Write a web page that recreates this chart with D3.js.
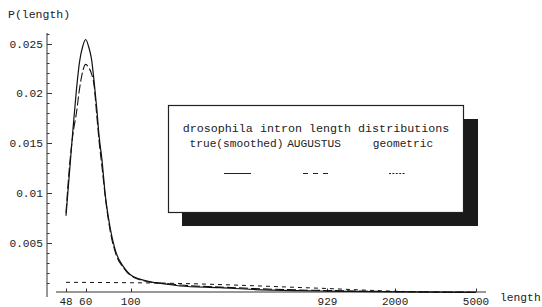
<!DOCTYPE html>
<html>
<head>
<meta charset="utf-8">
<script src="https://d3js.org/d3.v7.min.js"></script>
<style>
  body { margin: 0; background: #fff; }
  text { font-family: "Liberation Mono", "DejaVu Sans Mono", monospace; fill: #222; }
</style>
</head>
<body>
<script>

var xTicks = [48, 60, 100, 929, 2000, 5000];
var yTicks = [0.005, 0.01, 0.015, 0.02, 0.025];
var yTickLabels = ["0.005", "0.01", "0.015", "0.02", "0.025"];

var trueLen = [48, 50, 52, 54, 56, 58, 60, 62, 64, 66, 68, 70, 72, 75, 79, 85, 92, 100, 124, 150, 175, 275, 400, 681, 929, 2000, 5000];
var trueVal = [0.0077, 0.0122, 0.0165, 0.0203, 0.0232, 0.0247, 0.0254, 0.0247, 0.0235, 0.0212, 0.0185, 0.0155, 0.0135, 0.0097, 0.0066, 0.0039, 0.0026, 0.00176, 0.0011, 0.00085, 0.00065, 0.00048, 0.0003, 0.00018, 0.00014, 0.00006, 0.00002];

var augLen = [48, 50, 52, 54, 56, 58, 60, 62, 64, 66, 68, 70, 72, 75, 79, 85, 92, 100, 124, 150, 175, 275, 400, 681, 929, 2000, 5000];
var augVal = [0.0080, 0.0128, 0.0160, 0.0180, 0.0205, 0.0222, 0.0229, 0.0226, 0.0220, 0.0208, 0.0178, 0.0150, 0.0128, 0.0095, 0.0063, 0.0037, 0.0025, 0.0017, 0.00105, 0.0009, 0.00075, 0.00055, 0.0004, 0.00025, 0.0002, 0.00009, 0.00003];

var geoLen = [48, 100, 200, 400, 681, 929, 1500, 2000, 3000, 5000];
var geoVal = [0.00102, 0.00098, 0.00088, 0.00068, 0.0005, 0.0004, 0.00022, 0.00013, 0.00004, 0.000005];

var legendTitle = "drosophila intron length distributions";
var legendNames = ["true(smoothed)", "AUGUSTUS", "geometric"];

var w = 542, h = 307;

var x = d3.scaleLog().domain([48, 5000]).range([66, 476]);
var y = d3.scaleLinear().domain([0, 0.025]).range([292.5, 43.5]);

var svg = d3.select("body").append("svg")
    .attr("width", w)
    .attr("height", h);

// axes, Mathematica style
svg.append("line")
    .attr("x1", 47).attr("x2", 47)
    .attr("y1", 33).attr("y2", 297)
    .style("stroke", "#333").style("stroke-width", 1);

svg.append("line")
    .attr("x1", 56).attr("x2", 486)
    .attr("y1", 292).attr("y2", 292)
    .style("stroke", "#333").style("stroke-width", 1);

var minor = d3.range(1, 27).map(function(i) { return i * 0.001; });
svg.selectAll(".ymin")
    .data(minor)
    .enter()
    .append("line")
    .attr("x1", 47)
    .attr("x2", function(d) { return (Math.round(d * 1000) % 5 == 0) ? 52 : 49.5; })
    .attr("y1", function(d) { return Math.round(y(d)) + 0.5; })
    .attr("y2", function(d) { return Math.round(y(d)) + 0.5; })
    .style("stroke", "#333").style("stroke-width", 1);

svg.selectAll(".ylab")
    .data(yTicks)
    .enter()
    .append("text")
    .attr("x", 43)
    .attr("y", function(d) { return y(d) + 4; })
    .attr("text-anchor", "end")
    .style("font-size", "11.2px")
    .text(function(d, i) { return yTickLabels[i]; });

svg.selectAll(".xt")
    .data(xTicks)
    .enter()
    .append("line")
    .attr("x1", function(d) { return Math.round(x(d)) + 0.5; })
    .attr("x2", function(d) { return Math.round(x(d)) + 0.5; })
    .attr("y1", 292)
    .attr("y2", 288.5)
    .style("stroke", "#333").style("stroke-width", 1);

svg.selectAll(".xlab")
    .data(xTicks)
    .enter()
    .append("text")
    .attr("x", function(d) { return x(d); })
    .attr("y", 304.5)
    .attr("text-anchor", "middle")
    .style("font-size", "11px")
    .text(function(d) { return d; });

svg.append("text")
    .attr("x", 8).attr("y", 18)
    .style("font-size", "11.5px")
    .text("P(length)");

svg.append("text")
    .attr("x", 500).attr("y", 301)
    .style("font-size", "11.3px")
    .text("length");

// curves
var line = d3.line()
    .x(function(d) { return x(d[0]); })
    .y(function(d) { return y(d[1]); })
    .curve(d3.curveMonotoneX);

svg.append("path")
    .datum(d3.zip(geoLen, geoVal))
    .attr("d", line)
    .style("fill", "none").style("stroke", "#111")
    .style("stroke-width", 1).style("stroke-dasharray", "4,4");

svg.append("path")
    .datum(d3.zip(augLen, augVal))
    .attr("d", line)
    .style("fill", "none").style("stroke", "#111")
    .style("stroke-width", 1.1).style("stroke-dasharray", "9,3");

svg.append("path")
    .datum(d3.zip(trueLen, trueVal))
    .attr("d", line)
    .style("fill", "none").style("stroke", "#111")
    .style("stroke-width", 1.2);

// legend with shadow
svg.append("rect")
    .attr("x", 182).attr("y", 119)
    .attr("width", 296).attr("height", 107)
    .style("fill", "#1a1a1a");

svg.append("rect")
    .attr("x", 168.5).attr("y", 105.5)
    .attr("width", 295).attr("height", 107)
    .style("fill", "#fff").style("stroke", "#222").style("stroke-width", 1.2);

svg.append("text")
    .attr("x", 316).attr("y", 132)
    .attr("text-anchor", "middle")
    .style("font-size", "11.7px")
    .text(legendTitle);

var nameX = [236.5, 314, 403];
var keyX = [224, 303, 389];
var keyW = [27, 26, 16];
var keyDash = [null, "5,5", "2,1.4"];

svg.selectAll(".lname")
    .data(legendNames)
    .enter()
    .append("text")
    .attr("x", function(d, i) { return nameX[i]; })
    .attr("y", 147)
    .attr("text-anchor", "middle")
    .style("font-size", "11.2px")
    .text(function(d) { return d; });

svg.selectAll(".lkey")
    .data(legendNames)
    .enter()
    .append("line")
    .attr("x1", function(d, i) { return keyX[i]; })
    .attr("x2", function(d, i) { return keyX[i] + keyW[i]; })
    .attr("y1", 173.5).attr("y2", 173.5)
    .style("stroke", "#222").style("stroke-width", 1)
    .style("stroke-dasharray", function(d, i) { return keyDash[i]; });

</script>
</body>
</html>
